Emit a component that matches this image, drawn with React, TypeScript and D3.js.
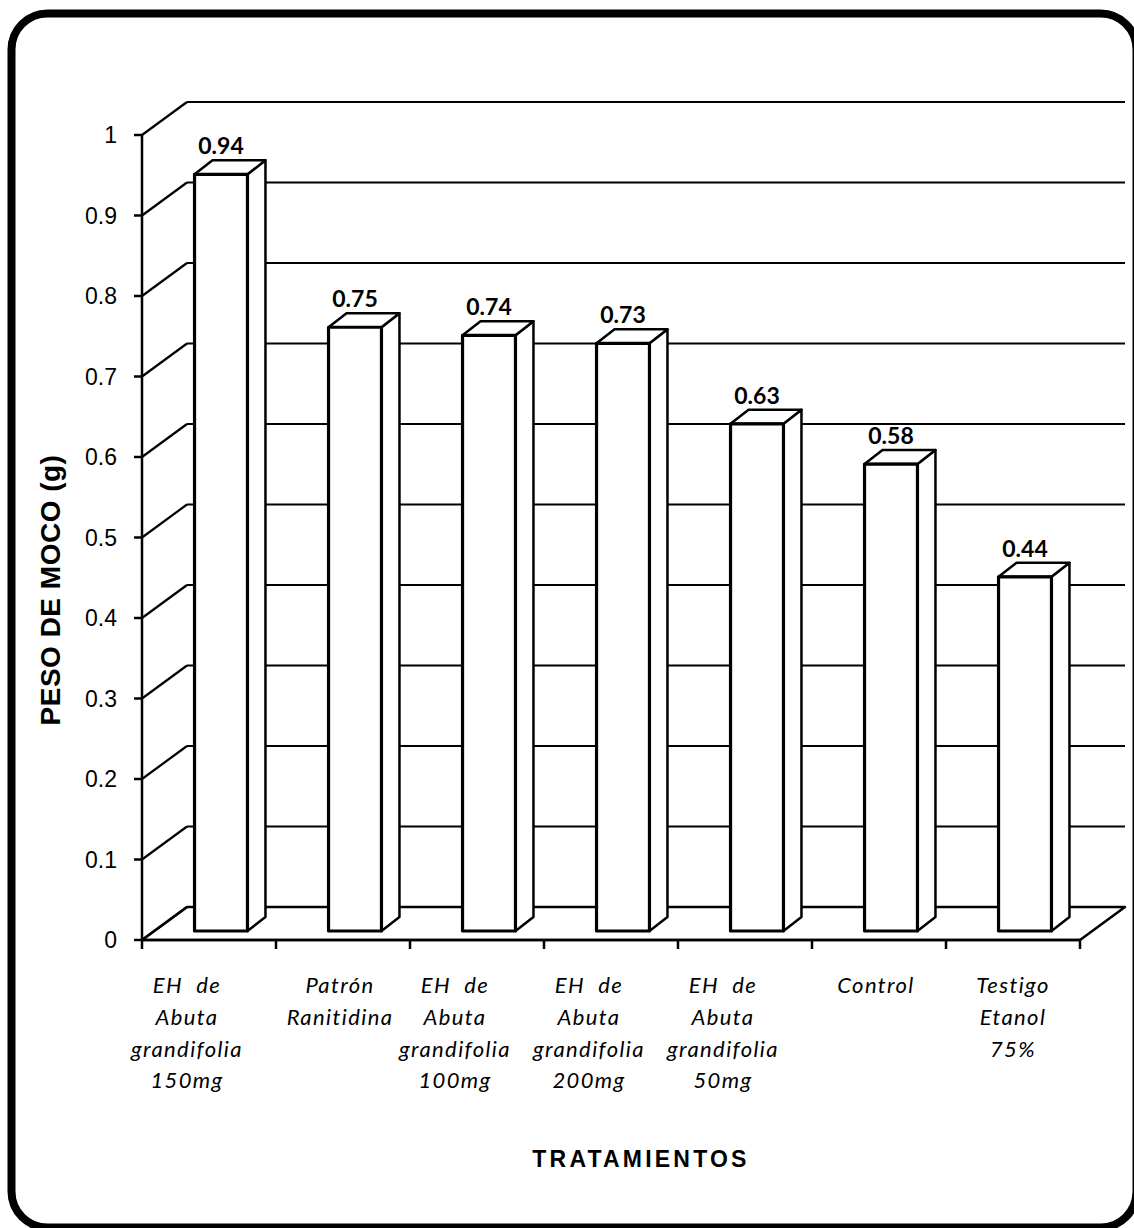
import React from "react";
import * as d3 from "d3";

// Treatments and mucus weight (g)
const categories = [
  "EH  de|Abuta|grandifolia|150mg",
  "Patrón|Ranitidina",
  "EH  de|Abuta|grandifolia|100mg",
  "EH  de|Abuta|grandifolia|200mg",
  "EH  de|Abuta|grandifolia|50mg",
  "Control",
  "Testigo|Etanol|75%",
];
const values = [0.94, 0.75, 0.74, 0.73, 0.63, 0.58, 0.44];
const yTicks = [0, 0.1, 0.2, 0.3, 0.4, 0.5, 0.6, 0.7, 0.8, 0.9, 1];
const yTickLabels = ["0", "0.1", "0.2", "0.3", "0.4", "0.5", "0.6", "0.7", "0.8", "0.9", "1"];
const yTitle = "PESO DE MOCO (g)";
const xTitle = "TRATAMIENTOS";

const W = 1134;
const H = 1228;

// 3D frame geometry
const FX0 = 142;
const FX1 = 1080;
const DEPTH_X = 45;
const DEPTH_Y = -33;
const BAR_SHIFT_X = 12;
const BAR_SHIFT_Y = -9;
const BAR_DX = 18;
const BAR_DY = -14;

export default function App() {
  const y = d3.scaleLinear().domain([0, 1]).range([940, 135]);
  const x = d3.scaleBand<number>().domain(d3.range(categories.length)).range([FX0, FX1]);
  const bw = x.bandwidth();
  const barW = bw * 0.395;

  const boundaries = d3.range(categories.length + 1).map((i) => FX0 + i * bw);

  const bars = values.map((v, i) => {
    const cx = (x(i) as number) + bw / 2 + BAR_SHIFT_X;
    const left = cx - barW / 2;
    const right = cx + barW / 2;
    const bottom = y(0) + BAR_SHIFT_Y;
    const top = y(v) + BAR_SHIFT_Y;
    return { v, cx, left, right, bottom, top };
  });

  const labelFont = "Lato, 'Open Sans', sans-serif";
  const arial = "'Liberation Sans', Arial, sans-serif";

  return (
    <svg width={W} height={H} style={{ display: "block", position: "absolute", left: 0, top: 0 }}>
      <rect x={0} y={0} width={W} height={H} fill="#fff" />
      {/* rounded frame */}
      <rect x={11.5} y={13.5} width={1125} height={1214} rx={36} ry={36} fill="none" stroke="#000" strokeWidth={8} />

      {/* floor */}
      <path
        d={`M${FX0},${y(0)} L${FX1},${y(0)} L${FX1 + DEPTH_X},${y(0) + DEPTH_Y} L${FX0 + DEPTH_X},${y(0) + DEPTH_Y} Z`}
        fill="#fff"
        stroke="#000"
        strokeWidth={2.5}
        strokeLinejoin="round"
      />

      {/* walls: gridlines */}
      {yTicks.map((t, i) => (
        <g key={"g" + i}>
          <line x1={FX0} y1={y(t)} x2={FX0 + DEPTH_X} y2={y(t) + DEPTH_Y} stroke="#000" strokeWidth={2.2} />
          <line x1={FX0 + DEPTH_X} y1={y(t) + DEPTH_Y} x2={FX1 + DEPTH_X} y2={y(t) + DEPTH_Y} stroke="#000" strokeWidth={2.2} />
        </g>
      ))}

      {/* y axis */}
      <line x1={FX0} y1={y(0)} x2={FX0} y2={y(1)} stroke="#000" strokeWidth={2.5} />
      {yTicks.map((t, i) => (
        <g key={"t" + i}>
          <line x1={FX0 - 8} y1={y(t)} x2={FX0} y2={y(t)} stroke="#000" strokeWidth={2.5} />
          <text x={117} y={y(t)} textAnchor="end" dominantBaseline="central" fontFamily={arial} fontSize={23} fill="#000">
            {yTickLabels[i]}
          </text>
        </g>
      ))}

      {/* x axis */}
      <line x1={FX0} y1={y(0)} x2={FX1} y2={y(0)} stroke="#000" strokeWidth={2.5} />
      {boundaries.map((bx, i) => (
        <line key={"xt" + i} x1={bx} y1={y(0)} x2={bx} y2={y(0) + 9} stroke="#000" strokeWidth={2.5} />
      ))}

      {/* bars */}
      {bars.map((b, i) => (
        <g key={"b" + i} stroke="#000" strokeLinejoin="round">
          <path
            d={`M${b.right},${b.top} L${b.right + BAR_DX},${b.top + BAR_DY} L${b.right + BAR_DX},${b.bottom + BAR_DY} L${b.right},${b.bottom} Z`}
            fill="#fff"
            strokeWidth={2.5}
          />
          <path
            d={`M${b.left},${b.top} L${b.left + BAR_DX},${b.top + BAR_DY} L${b.right + BAR_DX},${b.top + BAR_DY} L${b.right},${b.top} Z`}
            fill="#fff"
            strokeWidth={2.5}
          />
          <rect x={b.left} y={b.top} width={b.right - b.left} height={b.bottom - b.top} fill="#fff" strokeWidth={3.2} />
          <text
            x={b.cx}
            y={b.top + BAR_DY - 6}
            textAnchor="middle"
            fontFamily={labelFont}
            fontWeight="bold"
            fontSize={23}
            stroke="none"
            fill="#000"
          >
            {d3.format(".2f")(b.v)}
          </text>
        </g>
      ))}

      {/* category labels */}
      {categories.map((c, i) => {
        const lines = c.split("|");
        const shift = lines.length >= 4 ? -22 : i === categories.length - 1 ? 0 : -3;
        const cx = (x(i) as number) + bw / 2 + shift;
        return (
          <text key={"c" + i} textAnchor="middle" fontFamily={labelFont} fontStyle="italic" fontSize={22} fill="#000" letterSpacing={1.4} style={{ whiteSpace: "pre" }}>
            {lines.map((l, j) => (
              <tspan key={j} x={cx} y={993 + j * 31.8}>
                {l}
              </tspan>
            ))}
          </text>
        );
      })}

      {/* axis titles */}
      <text x={641} y={1167} textAnchor="middle" fontFamily={arial} fontWeight="bold" fontSize={23} letterSpacing={3.2} fill="#000">
        {xTitle}
      </text>
      <text
        transform={`translate(60,${590}) rotate(-90)`}
        textAnchor="middle"
        fontFamily={arial}
        fontWeight="bold"
        fontSize={28}
        letterSpacing={0.5}
        fill="#000"
      >
        {yTitle}
      </text>
    </svg>
  );
}
